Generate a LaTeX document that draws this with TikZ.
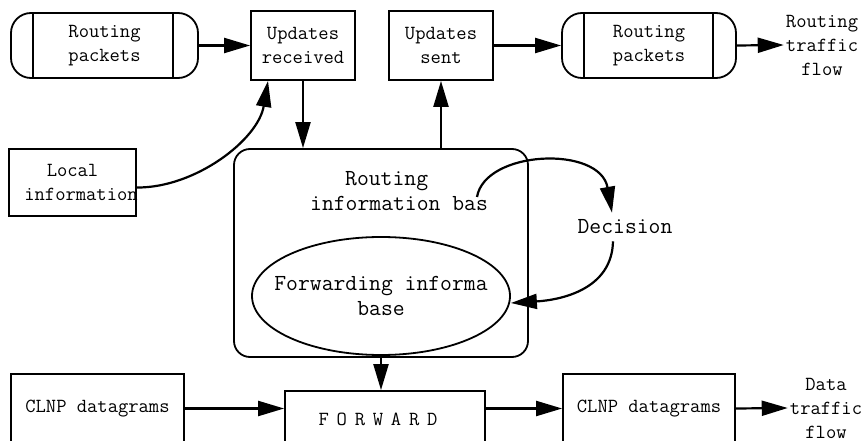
\documentclass[tikz,border=0pt]{standalone}
\usetikzlibrary{arrows.meta,shapes.geometric}
\newcommand\fwsp{\hspace{7.8pt}}
\begin{document}
\begin{tikzpicture}[x=1pt,y=-1pt,
  every node/.style={font=\ttfamily\fontsize{20}{24}\selectfont},
  bigfont/.style={font=\ttfamily\fontsize{23}{25}\selectfont},
  box/.style={draw, rectangle, line width=1.8pt, align=center, inner sep=0pt},
  pill/.style={draw, rectangle, rounded corners=20pt, line width=1.8pt, align=center, inner sep=0pt},
  txt/.style={align=center, inner sep=2pt},
  arr/.style={-{Triangle[length=26pt,width=15pt]}, line width=2.2pt},
  sep/.style={line width=1.8pt}]
\useasboundingbox (0,0) rectangle (863,441);
\clip (0,0) rectangle (863,441);

% top row
\node[pill, minimum width=187pt, minimum height=65pt] (lp) at (104.5,45.5) {Routing\\packets};
\draw[sep] ([xshift=23pt]lp.north west) -- ([xshift=23pt]lp.south west);
\draw[sep] ([xshift=-26pt]lp.north east) -- ([xshift=-26pt]lp.south east);
\node[box, minimum width=104pt, minimum height=69pt] (ur) at (303,45.5) {Updates\\received};
\node[box, minimum width=104pt, minimum height=69pt] (us) at (441,45.5) {Updates\\sent};
\node[pill, minimum width=174pt, minimum height=65pt] (rp) at (649,45.5) {Routing\\packets};
\draw[sep] ([xshift=23pt]rp.north west) -- ([xshift=23pt]rp.south west);
\draw[sep] ([xshift=-24pt]rp.north east) -- ([xshift=-24pt]rp.south east);
\node[txt] (rtf) at (822,45) {Routing\\traffic\\flow};

% middle
\node[box, minimum width=127pt, minimum height=67pt] (li) at (72.5,182.5)
  {\makebox[0pt]{Local}\\\makebox[0pt]{\hspace*{17pt}information}};
\node[draw, rectangle, rounded corners=16pt, line width=1.8pt, minimum width=294pt, minimum height=208pt, inner sep=0pt] (rib) at (381,253) {};
\node[bigfont, align=left, inner sep=0pt, anchor=west] (ribt) at (310,191) {\hspace*{35pt}Routing\\information bas};
\node[draw, ellipse, line width=1.8pt, minimum width=258pt, minimum height=118pt, inner sep=0pt, align=center, bigfont] (fib) at (381,296)
  {\makebox[0pt]{Forwarding informa}\\\makebox[0pt]{base}};
\node[bigfont, inner sep=7pt] (dec) at (625,227) {Decision};
\coordinate (arcstart) at (477,197);

% bottom row
\node[box, minimum width=173pt, minimum height=69pt] (cl) at (97.5,408.5) {CLNP datagrams};
\node[box, minimum width=200pt, minimum height=56pt] (fwd) at (385,419) {F\fwsp O\fwsp R\fwsp W\fwsp A\fwsp R\fwsp D\hspace*{14pt}};
\node[box, minimum width=172pt, minimum height=69pt] (cr) at (649,408.5) {CLNP datagrams};
\node[txt] (dtf) at (826,408) {Data\\traffic\\flow};

% connectors
\draw[arr] (lp.east) -- (ur.west);
\draw[arr] (us.east) -- (rp.west);
\draw[arr] (rp.east) -- (rtf.west);
\draw[arr] (ur.south) -- (ur.south |- rib.north);
\draw[arr] (rib.north -| us.south) -- (us.south);
\draw[arr] ([yshift=-5pt]li.east) .. controls (195,188) and (258,140) .. ([xshift=-35pt]ur.south);
\draw[arr] (arcstart) .. controls (485,150) and (600,145) .. ([xshift=-13pt]dec.north);
\draw[arr] ([xshift=-12pt]dec.south) .. controls (612,290) and (560,300) .. ([yshift=-7pt]fib.east);
\draw[arr] (rib.south) -- (rib.south |- fwd.north);
\draw[arr] (cl.east) -- (cl.east -| fwd.west);
\draw[arr] (fwd.east |- cr.west) -- (cr.west);
\draw[arr] (cr.east) -- (dtf.west);
\end{tikzpicture}
\end{document}
